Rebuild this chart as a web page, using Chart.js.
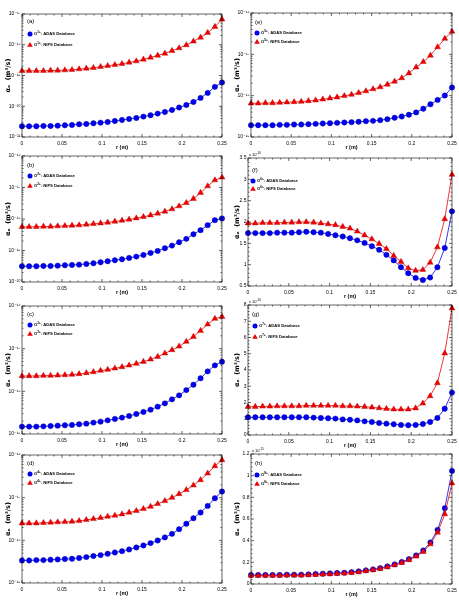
<!DOCTYPE html>
<html lang="en">
<head>
<meta charset="UTF-8">
<title>Charge exchange rate coefficients</title>
<script src="https://cdn.jsdelivr.net/npm/chart.js"></script>
<style>
  body { margin: 0; width: 459px; height: 604px; background: #fff; position: relative; overflow: hidden; }
  canvas { position: absolute; }
</style>
</head>
<body>
<script>
// radius grid (m)
const r = [0, 0.0089, 0.0179, 0.0268, 0.0357, 0.0446, 0.0536, 0.0625, 0.0714, 0.0804, 0.0893, 0.0982, 0.1071, 0.1161, 0.125,
           0.1339, 0.1429, 0.1518, 0.1607, 0.1696, 0.1786, 0.1875, 0.1964, 0.2054, 0.2143, 0.2232, 0.2321, 0.2411, 0.25];

// (a) O1+
const adasA = [2.23e-21,2.23e-21,2.23e-21,2.29e-21,2.29e-21,2.34e-21,2.40e-21,2.46e-21,2.59e-21,2.65e-21,2.79e-21,2.93e-21,3.08e-21,3.33e-21,3.58e-21,3.86e-21,4.17e-21,4.60e-21,5.09e-21,5.77e-21,6.53e-21,7.59e-21,9.06e-21,1.10e-20,1.38e-20,1.87e-20,2.72e-20,4.27e-20,5.92e-20];
const nifsA = [1.42e-19,1.42e-19,1.42e-19,1.42e-19,1.46e-19,1.46e-19,1.49e-19,1.53e-19,1.61e-19,1.69e-19,1.78e-19,1.92e-19,2.07e-19,2.23e-19,2.40e-19,2.65e-19,2.93e-19,3.33e-19,3.86e-19,4.49e-19,5.21e-19,6.37e-19,7.78e-19,9.75e-19,1.29e-18,1.73e-18,2.46e-18,3.86e-18,6.70e-18];
// (b) O2+
const adasB = [3.16e-20,3.16e-20,3.16e-20,3.23e-20,3.23e-20,3.31e-20,3.40e-20,3.48e-20,3.56e-20,3.74e-20,3.93e-20,4.23e-20,4.55e-20,4.90e-20,5.26e-20,5.81e-20,6.40e-20,7.23e-20,8.37e-20,9.70e-20,1.18e-19,1.43e-19,1.83e-19,2.34e-19,3.29e-19,4.42e-19,6.37e-19,9.18e-19,1.04e-18];
const nifsB = [5.64e-19,5.64e-19,5.64e-19,5.77e-19,5.77e-19,5.92e-19,6.05e-19,6.21e-19,6.37e-19,6.68e-19,7.01e-19,7.36e-19,7.74e-19,8.32e-19,8.95e-19,9.64e-19,1.06e-18,1.17e-18,1.32e-18,1.50e-18,1.73e-18,2.06e-18,2.56e-18,3.27e-18,4.39e-18,6.81e-18,1.11e-17,1.72e-17,2.09e-17];
// (c) O3+
const adasC = [1.49e-19,1.49e-19,1.49e-19,1.51e-19,1.54e-19,1.57e-19,1.60e-19,1.63e-19,1.69e-19,1.75e-19,1.85e-19,1.95e-19,2.09e-19,2.25e-19,2.42e-19,2.64e-19,2.94e-19,3.28e-19,3.72e-19,4.38e-19,5.23e-19,6.49e-19,8.05e-19,1.07e-18,1.43e-18,2.02e-18,2.94e-18,4.06e-18,4.95e-18];
const nifsC = [2.29e-18,2.29e-18,2.29e-18,2.33e-18,2.33e-18,2.37e-18,2.42e-18,2.46e-18,2.55e-18,2.69e-18,2.84e-18,3.05e-18,3.22e-18,3.46e-18,3.72e-18,4.06e-18,4.45e-18,4.95e-18,5.62e-18,6.49e-18,7.78e-18,9.31e-18,1.13e-17,1.46e-17,1.91e-17,2.64e-17,3.72e-17,5.05e-17,5.62e-17];
// (d) O4+
const adasD = [3.38e-19,3.38e-19,3.44e-19,3.44e-19,3.51e-19,3.57e-19,3.64e-19,3.70e-19,3.84e-19,4.05e-19,4.28e-19,4.51e-19,4.84e-19,5.20e-19,5.58e-19,6.11e-19,6.81e-19,7.59e-19,8.61e-19,9.93e-19,1.17e-18,1.42e-18,1.83e-18,2.44e-18,3.30e-18,4.49e-18,6.41e-18,9.70e-18,1.39e-17];
const nifsD = [2.52e-18,2.52e-18,2.52e-18,2.57e-18,2.62e-18,2.67e-18,2.71e-18,2.76e-18,2.86e-18,3.02e-18,3.18e-18,3.37e-18,3.61e-18,3.81e-18,4.10e-18,4.49e-18,4.91e-18,5.46e-18,6.19e-18,7.14e-18,8.39e-18,1.00e-17,1.22e-17,1.52e-17,1.95e-17,2.60e-17,3.72e-17,5.53e-17,7.64e-17];
// (e) O5+
const adasE = [1.93e-19,1.93e-19,1.93e-19,1.93e-19,1.97e-19,1.97e-19,2.00e-19,2.00e-19,2.04e-19,2.08e-19,2.12e-19,2.16e-19,2.20e-19,2.24e-19,2.29e-19,2.33e-19,2.42e-19,2.46e-19,2.56e-19,2.70e-19,2.92e-19,3.14e-19,3.45e-19,3.94e-19,4.84e-19,6.18e-19,7.89e-19,1.01e-18,1.58e-18];
const nifsE = [6.53e-19,6.53e-19,6.65e-19,6.65e-19,6.79e-19,6.92e-19,7.05e-19,7.18e-19,7.45e-19,7.74e-19,8.18e-19,8.67e-19,9.16e-19,9.89e-19,1.06e-18,1.17e-18,1.29e-18,1.44e-18,1.61e-18,1.87e-18,2.21e-18,2.67e-18,3.50e-18,4.88e-18,6.58e-18,9.40e-18,1.50e-17,2.40e-17,3.56e-17];
// (f) O6+  (x 10^-16)
const adasF = [1.74,1.74,1.74,1.74,1.75,1.75,1.75,1.76,1.77,1.76,1.75,1.72,1.69,1.66,1.62,1.57,1.51,1.43,1.35,1.23,1.10,0.94,0.80,0.69,0.64,0.70,0.94,1.39,2.25];
const nifsF = [1.97,1.97,1.98,1.98,1.98,1.99,1.99,2.00,2.00,1.99,1.97,1.95,1.93,1.89,1.85,1.78,1.69,1.60,1.49,1.37,1.21,1.07,0.92,0.86,0.88,1.05,1.41,2.07,3.11];
// (g) O7+  (x 10^-16)
const adasG = [1.09,1.09,1.09,1.09,1.09,1.09,1.09,1.09,1.09,1.07,1.05,1.03,1.01,0.96,0.94,0.90,0.84,0.80,0.74,0.70,0.66,0.62,0.60,0.62,0.68,0.80,1.05,1.62,2.61];
const nifsG = [1.74,1.74,1.76,1.76,1.78,1.78,1.78,1.78,1.81,1.81,1.81,1.81,1.81,1.78,1.78,1.76,1.74,1.70,1.66,1.62,1.58,1.58,1.58,1.65,1.95,2.40,3.20,5.03,7.80];
// (h) O8+  (x 10^-15)
const adasH = [0.083,0.083,0.083,0.083,0.083,0.086,0.086,0.086,0.089,0.092,0.095,0.098,0.101,0.104,0.110,0.117,0.126,0.135,0.147,0.163,0.181,0.203,0.230,0.264,0.310,0.384,0.500,0.700,1.044];
const nifsH = [0.077,0.077,0.077,0.077,0.077,0.080,0.080,0.080,0.083,0.086,0.089,0.092,0.095,0.098,0.104,0.110,0.120,0.129,0.141,0.156,0.175,0.196,0.222,0.255,0.298,0.368,0.476,0.645,0.930];

// tick values and labels
const xTicks = [0, 0.05, 0.1, 0.15, 0.2, 0.25];
const xTickLabels = ['0', '0.05', '0.1', '0.15', '0.2', '0.25'];
const ticksA = [1e-21, 1e-20, 1e-19, 1e-18, 1e-17];
const labelsA = ['10⁻²¹', '10⁻²⁰', '10⁻¹⁹', '10⁻¹⁸', '10⁻¹⁷'];
const ticksB = [1e-20, 1e-19, 1e-18, 1e-17, 1e-16];
const labelsB = ['10⁻²⁰', '10⁻¹⁹', '10⁻¹⁸', '10⁻¹⁷', '10⁻¹⁶'];
const ticksC = [1e-19, 1e-18, 1e-17, 1e-16];
const labelsC = ['10⁻¹⁹', '10⁻¹⁸', '10⁻¹⁷', '10⁻¹⁶'];
const ticksF = [0.5, 1, 1.5, 2, 2.5, 3, 3.5];
const labelsF = ['0.5', '1', '1.5', '2', '2.5', '3', '3.5'];
const ticksG = [0, 1, 2, 3, 4, 5, 6, 7, 8];
const labelsG = ['0', '1', '2', '3', '4', '5', '6', '7', '8'];
const ticksH = [0, 0.2, 0.4, 0.6, 0.8, 1, 1.2];
const labelsH = ['0', '0.2', '0.4', '0.6', '0.8', '1', '1.2'];

const BLUE = '#0000f0';
const RED = '#f00000';
const SANS = '"Liberation Sans", Arial, "DejaVu Sans", sans-serif';

// plot boxes: [left, top, right, bottom] of the axes area in page pixels
const panels = [
  { tag: '(a)', ion: '1+', adas: adasA, nifs: nifsA, log: true, ticks: ticksA, labels: labelsA, box: [22, 14, 222, 137], axisW: 22, leg: [5, 7, 8, 20, 31] },
  { tag: '(b)', ion: '2+', adas: adasB, nifs: nifsB, log: true, ticks: ticksB, labels: labelsB, box: [22, 156, 222, 282], axisW: 22, leg: [5, 9, 8, 20, 30] },
  { tag: '(c)', ion: '3+', adas: adasC, nifs: nifsC, log: true, ticks: ticksC, labels: labelsC, box: [22, 306, 222, 434], axisW: 22, leg: [5, 8, 8, 19, 28] },
  { tag: '(d)', ion: '4+', adas: adasD, nifs: nifsD, log: true, ticks: ticksC, labels: labelsC, box: [22, 455, 222, 583], axisW: 22, leg: [5, 8, 8, 19, 28] },
  { tag: '(e)', ion: '5+', adas: adasE, nifs: nifsE, log: true, ticks: ticksC, labels: labelsC, box: [251, 13, 452, 137], axisW: 21, leg: [4, 9, 6, 20, 29] },
  { tag: '(f)', ion: '6+', adas: adasF, nifs: nifsF, log: false, ticks: ticksF, labels: labelsF, box: [248, 158, 452, 286], axisW: 18, leg: [4, 12, 5, 23, 31], mult: '-16' },
  { tag: '(g)', ion: '7+', adas: adasG, nifs: nifsG, log: false, ticks: ticksG, labels: labelsG, box: [248, 305, 452, 435], axisW: 18, leg: [4, 9, 7, 21, 32], mult: '-16' },
  { tag: '(h)', ion: '8+', adas: adasH, nifs: nifsH, log: false, ticks: ticksH, labels: labelsH, box: [251, 454, 452, 584], axisW: 21, leg: [4, 9, 6, 21, 30], mult: '-15' }
];

const PAD_TOP = 8, PAD_RIGHT = 8, X_AXIS_H = 14;

function minorTicks(major, log) {
  const out = [];
  for (let i = 0; i < major.length - 1; i++) {
    const a = major[i], b = major[i + 1];
    for (let k = 1; k < (log ? 9 : 5); k++) out.push(log ? a * (k + 1) : a + (b - a) * k / 5);
  }
  return out;
}

function marker(ctx, style, x, y, color) {
  ctx.fillStyle = color;
  ctx.beginPath();
  if (style === 'circle') {
    ctx.arc(x, y, 2.5, 0, Math.PI * 2);
  } else {
    ctx.moveTo(x, y - 3);
    ctx.lineTo(x + 2.8, y + 1.8);
    ctx.lineTo(x - 2.8, y + 1.8);
    ctx.closePath();
  }
  ctx.fill();
}

// box round the axes, inward ticks, panel tag and legend
const frame = {
  id: 'frame',
  afterDraw(chart, args, o) {
    const { ctx, chartArea: a } = chart;
    const sx = chart.scales.x, sy = chart.scales.y;
    ctx.save();
    ctx.strokeStyle = '#000';
    ctx.lineWidth = 0.6;
    ctx.strokeRect(a.left, a.top, a.width, a.height);
    ctx.beginPath();
    const vt = (v, len) => {
      const p = sx.getPixelForValue(v);
      ctx.moveTo(p, a.bottom); ctx.lineTo(p, a.bottom - len);
      ctx.moveTo(p, a.top); ctx.lineTo(p, a.top + len);
    };
    const ht = (v, len) => {
      const p = sy.getPixelForValue(v);
      ctx.moveTo(a.left, p); ctx.lineTo(a.left + len, p);
      ctx.moveTo(a.right, p); ctx.lineTo(a.right - len, p);
    };
    o.xMajor.forEach(v => vt(v, 3));
    o.xMinor.forEach(v => vt(v, 1.5));
    o.yMajor.forEach(v => ht(v, 3));
    o.yMinor.forEach(v => ht(v, 1.5));
    ctx.stroke();

    ctx.fillStyle = '#000';
    ctx.textBaseline = 'middle';
    ctx.font = '6px ' + SANS;
    ctx.fillText(o.tag, a.left + o.leg[0], a.top + o.leg[1]);
    const entries = [
      { style: 'circle', color: BLUE, text: 'ADAS Database' },
      { style: 'triangle', color: RED, text: 'NIFS Database' }
    ];
    entries.forEach((e, k) => {
      const x = a.left + o.leg[2], y = a.top + o.leg[3 + k];
      marker(ctx, e.style, x, y, e.color);
      let tx = x + 4;
      ctx.fillStyle = '#000';
      ctx.font = 'bold 4.2px ' + SANS;
      ctx.fillText('O', tx, y);
      tx += ctx.measureText('O').width;
      ctx.font = 'bold 3px ' + SANS;
      ctx.fillText(o.ion, tx, y - 1.6);
      tx += ctx.measureText(o.ion).width;
      ctx.font = 'bold 4.2px ' + SANS;
      ctx.fillText(': ' + e.text, tx, y);
    });
    if (o.mult) {
      ctx.font = '4px ' + SANS;
      ctx.fillText('x 10', a.left + 1, a.top - 3);
      const w = ctx.measureText('x 10').width;
      ctx.font = '3px ' + SANS;
      ctx.fillText(o.mult, a.left + 1 + w, a.top - 4.8);
    }
    ctx.restore();
  }
};

panels.forEach(p => {
  const [L, T, R, B] = p.box;
  const cv = document.createElement('canvas');
  cv.width = p.axisW + (R - L) + PAD_RIGHT;
  cv.height = PAD_TOP + (B - T) + X_AXIS_H;
  cv.style.left = (L - p.axisW) + 'px';
  cv.style.top = (T - PAD_TOP) + 'px';
  document.body.appendChild(cv);

  new Chart(cv, {
    type: 'line',
    data: {
      datasets: [
        {
          label: 'NIFS Database',
          data: r.map((x, i) => ({ x: x, y: p.nifs[i] })),
          borderColor: RED, backgroundColor: RED,
          pointStyle: 'triangle', pointRadius: 3.4, pointBorderWidth: 0.4,
          pointBackgroundColor: RED, pointBorderColor: '#b00000',
          borderWidth: 0.8, order: 0, clip: false
        },
        {
          label: 'ADAS Database',
          data: r.map((x, i) => ({ x: x, y: p.adas[i] })),
          borderColor: BLUE, backgroundColor: BLUE,
          pointStyle: 'circle', pointRadius: 2.7, pointBorderWidth: 0.4,
          pointBackgroundColor: BLUE, pointBorderColor: '#0000a0',
          borderWidth: 0.8, order: 1, clip: false
        }
      ]
    },
    options: {
      responsive: false,
      animation: false,
      events: [],
      layout: { padding: { top: PAD_TOP, right: PAD_RIGHT, left: 0, bottom: 0 } },
      plugins: {
        legend: { display: false },
        tooltip: { enabled: false },
        frame: {
          tag: p.tag, ion: p.ion, leg: p.leg, mult: p.mult,
          xMajor: xTicks, xMinor: minorTicks(xTicks, false),
          yMajor: p.ticks, yMinor: minorTicks(p.ticks, p.log)
        }
      },
      scales: {
        x: {
          type: 'linear', min: 0, max: 0.25,
          grid: { display: false, drawTicks: false, tickLength: 0 }, border: { display: false },
          afterBuildTicks: s => { s.ticks = xTicks.map(v => ({ value: v })); },
          afterFit: s => { s.height = X_AXIS_H; s.paddingLeft = 0; s.paddingRight = 0; },
          ticks: {
            autoSkip: false, maxRotation: 0, minRotation: 0, padding: 4, color: '#000',
            font: { size: 5, family: SANS },
            callback: (v, i) => xTickLabels[i]
          },
          title: {
            display: true, text: 'r (m)', color: '#000', padding: 0,
            font: { size: 5.5, weight: 'bold', family: SANS }
          }
        },
        y: {
          type: p.log ? 'logarithmic' : 'linear',
          min: p.ticks[0], max: p.ticks[p.ticks.length - 1],
          grid: { display: false, drawTicks: false, tickLength: 0 }, border: { display: false },
          afterBuildTicks: s => { s.ticks = p.ticks.map(v => ({ value: v })); },
          afterFit: s => { s.width = p.axisW; s.paddingTop = 0; s.paddingBottom = 0; },
          ticks: {
            autoSkip: false, padding: 1.5, color: '#000',
            font: { size: 5, family: SANS },
            callback: (v, i) => p.labels[i]
          },
          title: {
            display: true, text: 'αₑ  (m³/s)', color: '#000',
            padding: { top: p.axisW === 22 ? 4.5 : 3.5, bottom: 0 },
            font: { size: 6.5, weight: 'bold', family: '"DejaVu Sans", sans-serif' }
          }
        }
      }
    },
    plugins: [frame]
  });
});
</script>
</body>
</html>
